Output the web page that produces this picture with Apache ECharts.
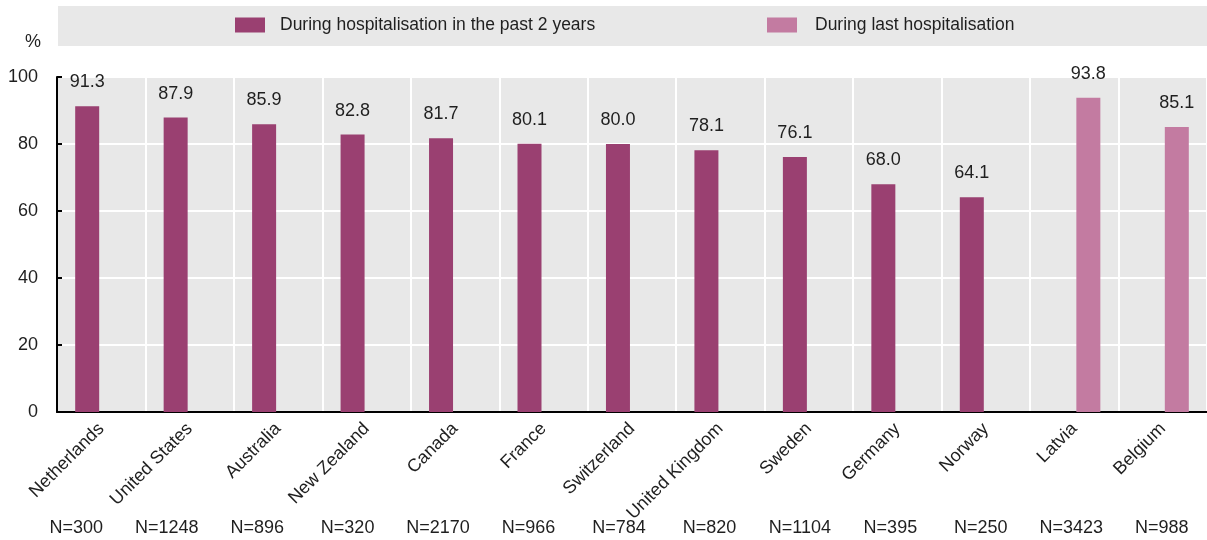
<!DOCTYPE html>
<html>
<head>
<meta charset="utf-8">
<title>Hospitalisation chart</title>
<script src="https://cdn.jsdelivr.net/npm/echarts@6/dist/echarts.min.js"></script>
<style>
  html, body { margin: 0; padding: 0; background: #fff; }
  #chart { width: 1207px; height: 540px; }
</style>
</head>
<body>
<div id="chart"></div>
<script>
// countries (x axis)
const countries = ['Netherlands', 'United States', 'Australia', 'New Zealand', 'Canada', 'France',
  'Switzerland', 'United Kingdom', 'Sweden', 'Germany', 'Norway', 'Latvia', 'Belgium']
// sample sizes shown under the labels
const sampleSizes = ['N=300', 'N=1248', 'N=896', 'N=320', 'N=2170', 'N=966', 'N=784',
  'N=820', 'N=1104', 'N=395', 'N=250', 'N=3423', 'N=988']
// During hospitalisation in the past 2 years
const past2Years = [91.3, 87.9, 85.9, 82.8, 81.7, 80.1, 80.0, 78.1, 76.1, 68.0, 64.1, null, null]
// During last hospitalisation
const lastStay = [null, null, null, null, null, null, null, null, null, null, null, 93.8, 85.1]

const seriesNames = ['During hospitalisation in the past 2 years', 'During last hospitalisation']
const yTicks = { min: 0, max: 100, interval: 20 }

const DARK = '#9a4071'
const LIGHT = '#c37ba1'
const FONT = '"Liberation Sans", Arial, sans-serif'

const chart = echarts.init(document.getElementById('chart'))

// same label style for both bar series
const valueLabel = {
  show: true,
  position: 'top',
  distance: 15,
  fontSize: 18,
  color: '#1f1f1f',
  fontFamily: FONT,
  formatter: p => p.value.toFixed(1)
}

const option = {
  backgroundColor: '#fff',
  textStyle: { fontFamily: FONT },
  animation: false,
  // grey band behind the legend
  graphic: [{
    type: 'rect',
    left: 58,
    top: 6,
    shape: { width: 1149, height: 40 },
    style: { fill: '#e8e8e8' },
    z: -1
  }],
  legend: [
    {
      data: [seriesNames[0]],
      left: 235,
      top: 16,
      padding: 0,
      itemWidth: 30,
      itemHeight: 15,
      icon: 'rect',
      textStyle: { fontSize: 17.5, color: '#1f1f1f', fontFamily: FONT, padding: [0, 0, 0, 10] }
    },
    {
      data: [seriesNames[1]],
      left: 767,
      top: 16,
      padding: 0,
      itemWidth: 30,
      itemHeight: 15,
      icon: 'rect',
      textStyle: { fontSize: 17.5, color: '#1f1f1f', fontFamily: FONT, padding: [0, 0, 0, 13] }
    }
  ],
  grid: [
    {
      left: 57,
      right: 0,
      top: 77,
      bottom: 128,
      show: true,
      backgroundColor: '#e8e8e8',
      borderWidth: 0
    },
    // thin invisible grid that only carries the N= labels
    {
      left: 31,
      right: 0,
      top: 514,
      height: 1,
      show: false
    }
  ],
  xAxis: [
    {
      type: 'category',
      gridIndex: 0,
      data: countries,
      axisLine: { lineStyle: { color: '#000', width: 2 } },
      axisTick: { inside: true, length: 5, interval: 0, lineStyle: { color: '#000', width: 2 } },
      splitLine: { show: true, interval: 0, lineStyle: { color: '#fff', width: 2 } },
      axisLabel: {
        interval: 0,
        rotate: 45,
        margin: 14,
        fontSize: 18,
        color: '#1f1f1f',
        fontFamily: FONT
      }
    },
    {
      type: 'category',
      gridIndex: 1,
      data: sampleSizes,
      axisLine: { show: false },
      axisTick: { show: false },
      axisLabel: { interval: 0, margin: 4, fontSize: 18, color: '#1f1f1f', fontFamily: FONT }
    }
  ],
  yAxis: [
    {
      type: 'value',
      gridIndex: 0,
      min: yTicks.min,
      max: yTicks.max,
      interval: yTicks.interval,
      name: '%',
      nameLocation: 'end',
      nameGap: 26,
      nameTextStyle: { fontSize: 18, color: '#1f1f1f', align: 'right', padding: [0, 16, 0, 0], fontFamily: FONT },
      axisLine: { show: true, lineStyle: { color: '#000', width: 2 } },
      axisTick: { show: true, inside: true, length: 5, lineStyle: { color: '#000', width: 2 } },
      splitLine: { show: true, lineStyle: { color: '#fff', width: 2 } },
      axisLabel: { margin: 19, fontSize: 18, color: '#1f1f1f', fontFamily: FONT }
    },
    {
      type: 'value',
      gridIndex: 1,
      show: false
    }
  ],
  series: [
    {
      name: seriesNames[0],
      type: 'bar',
      xAxisIndex: 0,
      yAxisIndex: 0,
      data: past2Years,
      barWidth: 24,
      barGap: '17%',
      itemStyle: { color: DARK },
      label: valueLabel
    },
    {
      name: seriesNames[1],
      type: 'bar',
      xAxisIndex: 0,
      yAxisIndex: 0,
      data: lastStay,
      barWidth: 24,
      barGap: '17%',
      itemStyle: { color: LIGHT },
      label: valueLabel
    }
  ]
}

chart.setOption(option)
</script>
</body>
</html>
